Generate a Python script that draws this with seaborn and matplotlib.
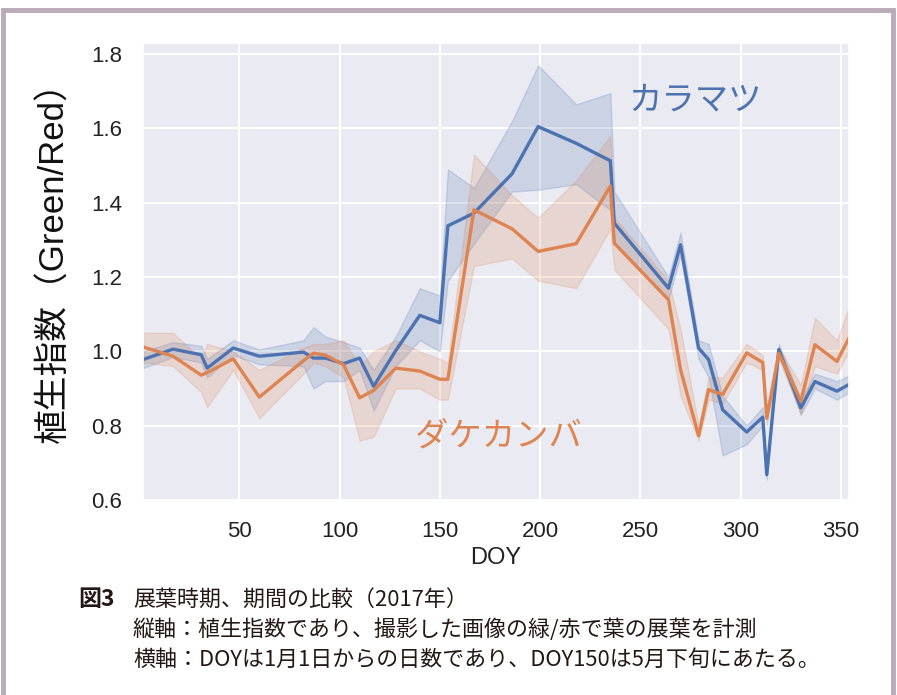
import pandas as pd
import matplotlib.pyplot as plt
import seaborn as sns
from matplotlib.patches import Rectangle

# DATA

doy = [2, 17, 31, 34, 47, 60, 82, 87, 93, 102, 110, 117, 128, 140, 150, 154,
       167, 186, 199, 218, 235, 237, 264, 270, 279, 284, 291, 303, 311, 313,
       319, 330, 337, 348, 354]

# カラマツ (larch)
kara_mean = [0.978, 1.006, 0.991, 0.955, 1.009, 0.987, 0.998, 0.982, 0.982, 0.967,
             0.982, 0.906, 1.002, 1.097, 1.077, 1.338, 1.372, 1.478, 1.605, 1.560,
             1.513, 1.345, 1.170, 1.287, 1.009, 0.978, 0.843, 0.783, 0.823, 0.668,
             1.005, 0.848, 0.919, 0.893, 0.911]
kara_lo = [0.955, 0.985, 0.970, 0.930, 0.990, 0.965, 0.960, 0.900, 0.920, 0.920,
           0.950, 0.840, 0.960, 1.030, 1.000, 1.190, 1.290, 1.430, 1.435, 1.450,
           1.380, 1.290, 1.140, 1.260, 0.980, 0.930, 0.720, 0.750, 0.800, 0.655,
           0.990, 0.830, 0.900, 0.870, 0.890]
kara_hi = [1.000, 1.025, 1.015, 0.980, 1.030, 1.005, 1.030, 1.065, 1.040, 1.025,
           1.010, 0.950, 1.040, 1.170, 1.150, 1.490, 1.440, 1.620, 1.770, 1.665,
           1.695, 1.430, 1.200, 1.320, 1.030, 1.020, 0.880, 0.800, 0.850, 0.680,
           1.020, 0.870, 0.940, 0.920, 0.935]

# ダケカンバ (birch)
dake_mean = [1.012, 0.987, 0.936, 0.943, 0.980, 0.877, 0.975, 0.995, 0.990, 0.964,
             0.875, 0.895, 0.955, 0.947, 0.925, 0.925, 1.381, 1.330, 1.269, 1.290,
             1.445, 1.291, 1.139, 0.951, 0.773, 0.897, 0.884, 0.996, 0.970, 0.820,
             0.995, 0.866, 1.018, 0.973, 1.036]
dake_lo = [0.970, 0.960, 0.890, 0.850, 0.950, 0.820, 0.940, 0.970, 0.960, 0.930,
           0.760, 0.770, 0.900, 0.900, 0.870, 0.870, 1.230, 1.250, 1.190, 1.170,
           1.330, 1.220, 1.060, 0.880, 0.760, 0.870, 0.860, 0.970, 0.950, 0.800,
           0.980, 0.830, 0.960, 0.940, 1.000]
dake_hi = [1.050, 1.050, 0.980, 1.020, 1.000, 0.950, 1.010, 1.020, 1.020, 1.030,
           0.960, 1.000, 1.030, 1.000, 0.980, 0.970, 1.530, 1.420, 1.360, 1.460,
           1.580, 1.360, 1.190, 1.060, 0.800, 0.930, 0.930, 1.020, 0.990, 0.840,
           1.010, 0.910, 1.090, 1.030, 1.120]

species = ["カラマツ", "ダケカンバ"]
colors = ["#4C72B0", "#DD8452"]

x_ticks = [50, 100, 150, 200, 250, 300, 350]
y_ticks = [0.6, 0.8, 1.0, 1.2, 1.4, 1.6, 1.8]

caption_head = "図3"
caption_lines = [
    "展葉時期、期間の比較（2017年）",
    "縦軸：植生指数であり、撮影した画像の緑/赤で葉の展葉を計測",
    "横軸：DOYは1月1日からの日数であり、DOY150は5月下旬にあたる。",
]

# LONG FORM TABLE: lo / mean / hi per day -> median line, min-max band

rows = []
for name, lo, mid, hi in [
    (species[0], kara_lo, kara_mean, kara_hi),
    (species[1], dake_lo, dake_mean, dake_hi),
]:
    for i in range(len(doy)):
        for v in (lo[i], mid[i], hi[i]):
            rows.append({"DOY": doy[i], "value": v, "species": name})

df = pd.DataFrame(rows)

# PLOT

sns.set_theme(style="darkgrid")
plt.rcParams["font.family"] = ["Liberation Sans", "Noto Sans CJK JP"]
plt.rcParams["grid.linewidth"] = 1.4

fig = plt.figure(figsize=(8.97, 6.95), dpi=100)
ax = fig.add_axes([143 / 897, 1 - 500 / 695, 706 / 897, 457 / 695])

sns.lineplot(
    data=df,
    x="DOY",
    y="value",
    hue="species",
    hue_order=species,
    palette=colors,
    estimator="median",
    errorbar=("pi", 100),
    linewidth=2.4,
    legend=False,
    ax=ax
)

ax.set_xlim(doy[0], doy[-1])
ax.set_ylim(0.6, 1.83)
ax.set_xticks(x_ticks)
ax.set_yticks(y_ticks)
ax.set_yticklabels([f"{t:.1f}" for t in y_ticks])
ax.tick_params(axis="both", labelsize=16, colors="#222222")
ax.tick_params(axis="y", pad=9)
ax.tick_params(axis="x", pad=9)

ax.set_xlabel("DOY", fontsize=17, color="#222222", labelpad=4)
ax.set_ylabel("植生指数（Green/Red）", fontsize=25, color="#111111")
ax.yaxis.set_label_coords(-0.103, 0.54)

ax.text(277.5, 1.677, species[0], color=colors[0], fontsize=24,
        ha="center", va="center", family=["Noto Sans CJK JP"])
ax.text(179, 0.771, species[1], color=colors[1], fontsize=24,
        ha="center", va="center", family=["Noto Sans CJK JP"])

# CAPTION

fig.text(78 / 897, 1 - 600 / 695, caption_head, fontsize=16.5, fontweight="bold",
         va="center", family=["Noto Sans CJK JP"], color="#231815")
for k, line in enumerate(caption_lines):
    fig.text(133 / 897, 1 - (600 + 30 * k) / 695, line, fontsize=15.8,
             va="center", family=["Noto Sans CJK JP"], color="#231815")

# FRAME

frame = Rectangle(
    (3 / 897, -0.1), 890 / 897, 1.1 - 10 / 695,
    transform=fig.transFigure, fill=False,
    edgecolor="#b9abb7", linewidth=3.5, clip_on=False
)
fig.patches.append(frame)

fig.savefig("out.png", dpi=100)
